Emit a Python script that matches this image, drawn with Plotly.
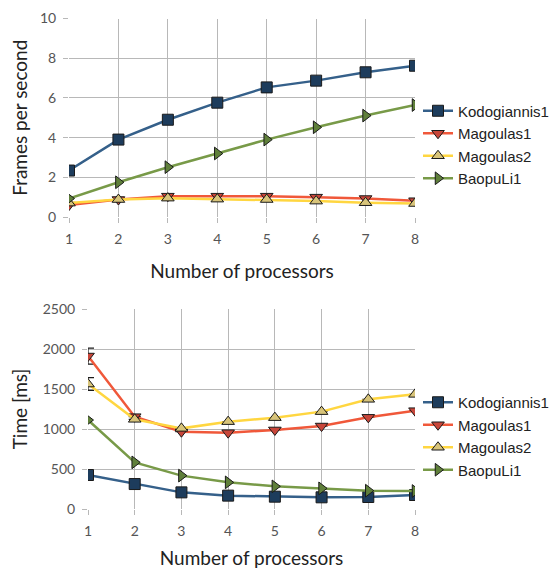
import plotly.graph_objects as go

processors = [1, 2, 3, 4, 5, 6, 7, 8]
series_names = ["Kodogiannis1", "Magoulas1", "Magoulas2", "BaopuLi1"]

fps_kodogiannis1 = [2.34, 3.90, 4.90, 5.76, 6.53, 6.87, 7.29, 7.62]
fps_magoulas1 = [0.60, 0.88, 1.05, 1.05, 1.05, 1.00, 0.93, 0.82]
fps_magoulas2 = [0.70, 0.88, 0.95, 0.90, 0.88, 0.80, 0.72, 0.68]
fps_baopuli1 = [0.93, 1.75, 2.51, 3.20, 3.90, 4.52, 5.11, 5.64]

time_kodogiannis1 = [425, 312, 208, 167, 154, 146, 150, 175]
time_magoulas1 = [1912, 1154, 966, 954, 988, 1037, 1146, 1229]
time_magoulas2 = [1562, 1121, 1008, 1092, 1142, 1217, 1371, 1433]
time_baopuli1 = [1112, 583, 417, 333, 283, 258, 229, 225]

err_magoulas1 = [100, 0, 0, 0, 0, 0, 0, 0]
err_magoulas2 = [80, 0, 0, 0, 0, 0, 0, 0]

fps_ticks = [0, 2, 4, 6, 8, 10]
time_ticks = [0, 500, 1000, 1500, 2000, 2500]

line_colors = ["#35608a", "#f0583a", "#ffd640", "#789a48"]
marker_colors = ["#1d3c5c", "#c8463a", "#d8c47a", "#5f7f3a"]
symbols = ["square", "triangle-down", "triangle-up", "triangle-right"]

fps_data = [fps_kodogiannis1, fps_magoulas1, fps_magoulas2, fps_baopuli1]
time_data = [time_kodogiannis1, time_magoulas1, time_magoulas2, time_baopuli1]
time_err = [None, err_magoulas1, err_magoulas2, None]

# page body has an 8px margin; size the figure to fit the 558x569 window
OFF = 8
W, H = 558 - OFF, 569 - OFF


def px_x(p):
    return (p - OFF) / W


def px_y(p):
    return 1 - (p - OFF) / H


fig = go.Figure()

order = [1, 2, 0, 3]  # draw order (back to front)
for i in order:
    fig.add_trace(go.Scatter(
        x=processors, y=fps_data[i], name=series_names[i],
        mode="lines+markers", xaxis="x", yaxis="y", legend="legend",
        line=dict(color=line_colors[i], width=2.5),
        marker=dict(symbol=symbols[i], size=11, color=marker_colors[i],
                    line=dict(color="#1a1a1a", width=1)),
        legendrank=i,
    ))
for i in order:
    ey = None
    if time_err[i] is not None:
        ey = dict(type="data", array=time_err[i], visible=True,
                  color="#1a1a1a", thickness=1.2, width=6)
    fig.add_trace(go.Scatter(
        x=processors, y=time_data[i], name=series_names[i],
        mode="lines+markers", xaxis="x2", yaxis="y2", legend="legend2",
        line=dict(color=line_colors[i], width=2.5),
        marker=dict(symbol=symbols[i], size=11, color=marker_colors[i],
                    line=dict(color="#1a1a1a", width=1)),
        error_y=ey,
        legendrank=i,
    ))

tick_font = dict(family="Lato, Open Sans, sans-serif", size=14, color="#555555")
title_font = dict(family="Lato, Open Sans, sans-serif", size=19, color="#222222")
grid = "#b8b8b8"

common_x = dict(range=[1, 8], tickvals=processors, showgrid=True, gridcolor=grid,
                gridwidth=1, ticks="outside", ticklen=5, tickcolor=grid,
                tickfont=tick_font, zeroline=False, showline=False,
                automargin=False, ticklabelstandoff=4, ticklabeloverflow="allow",
                title=dict(text="Number of processors", font=title_font, standoff=18))
common_y = dict(showgrid=True, gridcolor=grid, gridwidth=1, ticks="outside",
                ticklen=5, tickcolor=grid, tickfont=tick_font, zeroline=False,
                showline=False, automargin=False, ticklabelstandoff=4,
                ticklabeloverflow="allow")

legend_font = dict(family="Liberation Sans, Arial, sans-serif", size=15, color="#222222")

fig.update_layout(
    width=W, height=H,
    margin=dict(l=0, r=0, t=0, b=0),
    paper_bgcolor="white", plot_bgcolor="white",
    xaxis=dict(domain=[px_x(69), px_x(415)], anchor="y", **common_x),
    yaxis=dict(domain=[px_y(217), px_y(18.5)], anchor="x", range=[0, 10],
               tickvals=fps_ticks,
               title=dict(text="Frames per second", font=title_font, standoff=12),
               **common_y),
    xaxis2=dict(domain=[px_x(88), px_x(415)], anchor="y2", **common_x),
    yaxis2=dict(domain=[px_y(509), px_y(309)], anchor="x2", range=[0, 2500],
                tickvals=time_ticks,
                title=dict(text="Time [ms]", font=title_font, standoff=12),
                **common_y),
    legend=dict(x=px_x(418), y=px_y(144.5), xanchor="left", yanchor="middle",
                font=legend_font, tracegroupgap=0, itemwidth=30,
                bgcolor="rgba(0,0,0,0)"),
    legend2=dict(x=px_x(418), y=px_y(436), xanchor="left", yanchor="middle",
                 font=legend_font, tracegroupgap=0, itemwidth=30,
                 bgcolor="rgba(0,0,0,0)"),
    showlegend=True,
)

fig.write_html("out.html")
